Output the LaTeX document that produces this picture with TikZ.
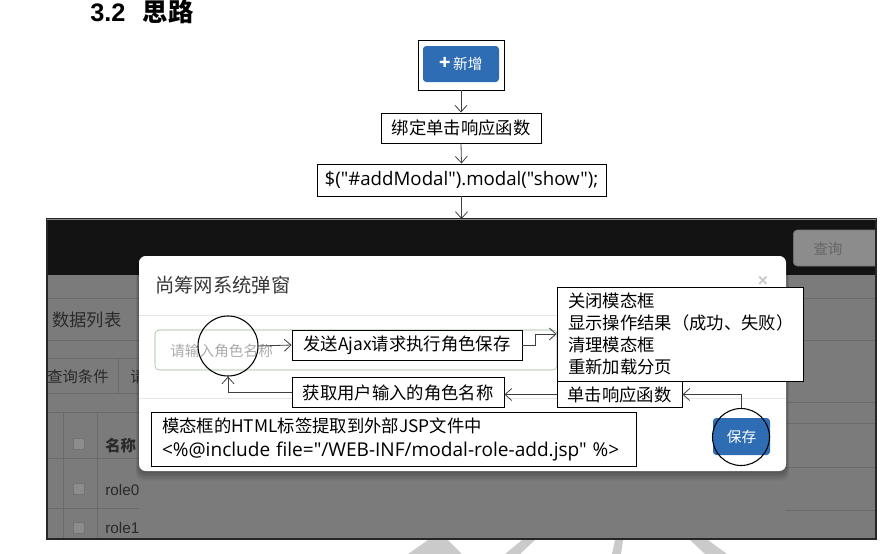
\documentclass[tikz,border=0pt]{standalone}
\usepackage{fontspec}
\setmainfont{Noto Sans CJK SC}
\newfontfamily\arialfont{Liberation Sans}
\newfontfamily\codefont{Open Sans}
\usetikzlibrary{arrows.meta,calc,positioning}
\definecolor{btnblue}{HTML}{2E6DB4}
\definecolor{backdrop}{HTML}{7B7B7B}
\definecolor{navdark}{HTML}{131313}
\definecolor{rowline}{HTML}{6A6A6A}
\definecolor{dimtext}{HTML}{2A2A2A}
\definecolor{inputgreen}{HTML}{8FB68F}
\definecolor{sepline}{HTML}{E6E6E6}
\definecolor{wmark}{HTML}{CACACA}

\begin{document}
\begin{tikzpicture}[x=0.75pt,y=-0.75pt,>={Straight Barb[length=5pt,width=9pt]},
  box/.style={draw,fill=white,line width=0.7pt,inner sep=0pt,font=\fontsize{13}{16}\selectfont},
  lens/.style={draw,circle,line width=0.8pt,inner sep=0pt},
  flow/.style={->,line width=0.6pt,draw=black!75},
  shot/.style={font=\fontsize{11.5}{14}\selectfont,text=dimtext,inner sep=0pt},
  tick/.style={draw=rowline,fill=black!45,rounded corners=1pt,minimum size=8.5pt,inner sep=0pt}]
  \useasboundingbox (0,0) rectangle (883,554);

  % title
  \node[anchor=base west,inner sep=0pt,font=\fontsize{19}{21}\selectfont] (title) at (90,21.5)
    {{\arialfont\bfseries 3.2}\hspace{13pt}{\bfseries 思路}};

  % flow above the screenshot
  \node[draw,fill=white,line width=0.7pt,minimum width=64.5pt,minimum height=37.5pt] (btnframe) at (461,65) {};
  \node[fill=btnblue,rounded corners=2.5pt,minimum width=57pt,minimum height=27pt,text=white,
    font=\fontsize{11}{13}\selectfont] (btn) at (461,64) {{\fontsize{14}{14}\selectfont\bfseries +}\,新增};
  \node[box,minimum width=120pt,minimum height=22.5pt] (bind) at (461,128) {绑定单击响应函数};
  \node[box,minimum width=216.75pt,minimum height=24pt,font=\codefont\fontsize{14}{16}\selectfont] (show)
    at (461.5,180) {\$("\#addModal").modal("show");};
  \coordinate (shottop) at (461,219);
  \draw[flow] (btnframe.south) -- (bind.north);
  \draw[flow] (bind.south) -- (show.north);
  \draw[flow] (show.south) -- (show.south |- shottop);

  % screenshot of the page behind the modal
  \fill[backdrop] (47,219) rectangle (876,539);
  \fill[navdark] (47,220) rectangle (876,275);
  \begin{scope}
    \clip (47,219) rectangle (876,539);
    \node[fill=black!45,draw=black!55,rounded corners=3pt,minimum width=66pt,minimum height=27pt,
      text=black!60,font=\fontsize{11}{13}\selectfont,text depth=0pt,inner sep=0pt,anchor=west] (query) at (793,248)
      {\hspace*{-14pt}查询};
  \end{scope}
  \foreach \y in {298,340,358,393,412,458,508}
    \draw[rowline] (47,\y) -- (139,\y);
  \foreach \y in {298,340,402,423,467,510}
    \draw[rowline] (786,\y) -- (876,\y);
  \draw[rowline] (118,358) -- (118,393);
  \draw[rowline] (63,412) -- (63,539);
  \draw[rowline] (97,412) -- (97,539);
  \node[shot,font=\fontsize{13}{16}\selectfont,anchor=west] (listlabel) at (52,320) {数据列表};
  \node[shot,anchor=west] (condtab) at (47,377) {查询条件};
  \node[shot,anchor=west] (condtab2) at (130,377) {请};
  \node[tick] (tick0) at (79,444) {};
  \node[tick] (tick1) at (79,489) {};
  \node[tick] (tick2) at (79,528) {};
  \node[shot,anchor=west,font=\fontsize{11.5}{14}\selectfont\bfseries] (namehead) at (105,446) {名称};
  \node[shot,anchor=west,font=\arialfont\fontsize{11.5}{14}\selectfont] (role0) at (105,490) {role0};
  \node[shot,anchor=west,font=\arialfont\fontsize{11.5}{14}\selectfont] (role1) at (105,528) {role1};
  \draw[black!85,line width=0.8pt] (47,219) rectangle (876,539);
  \draw[black!45,line width=1pt] (47,219.5) -- (876,219.5);

  % modal window
  \foreach \s in {1,...,6}
    \fill[black,opacity=0.05,rounded corners=6pt] (139-\s/2,256+\s) rectangle (786+\s/2,471+1.6*\s);
  \fill[white,rounded corners=5pt] (139,256) rectangle (786,471);
  \node[anchor=west,inner sep=0pt,text=black!78,font=\fontsize{14.5}{16}\selectfont] (mtitle) at (155,285) {尚筹网系统弹窗};
  \node[inner sep=0pt,text=black!22,font=\arialfont\fontsize{13}{13}\selectfont\bfseries] (mclose) at (763,281) {×};
  \draw[sepline] (139,315) -- (786,315);
  \draw[sepline] (139,398) -- (786,398);
  \node[draw=inputgreen,rounded corners=3pt,minimum width=301.5pt,minimum height=30pt] (input) at (356,350) {};
  \node[anchor=west,inner sep=0pt,text=black!33,font=\fontsize{11}{13}\selectfont] (hint) at (170,351) {请输入角色名称};
  \node[fill=btnblue,rounded corners=2.5pt,minimum width=42.75pt,minimum height=27.75pt,text=white,
    font=\fontsize{11}{13}\selectfont] (save) at (741.5,436.5) {保存};

  % notes on the modal
  \node[box,minimum width=172.5pt,minimum height=22.5pt] (ajax) at (407,345) {发送Ajax请求执行角色保存};
  \node[box,minimum height=70.5pt,text width=168pt,inner xsep=8.25pt,align=left,
    font=\fontsize{13}{16.5}\selectfont] (result) at (680,334)
    {关闭模态框\\显示操作结果（成功、失败）\\清理模态框\\重新加载分页};
  \node[box,minimum width=93.75pt,minimum height=19.5pt] (click) at (619.5,394.5) {单击响应函数};
  \node[box,minimum width=159pt,minimum height=22.5pt] (fetch) at (398,392.5) {获取用户输入的角色名称};
  \node[box,minimum height=40.5pt,text width=347.25pt,inner xsep=8.25pt,align=left,
    font=\fontsize{13}{18}\selectfont] (jsp) at (393.5,439)
    {模态框的HTML标签提取到外部JSP文件中\\{\codefont\fontsize{14.3}{18}\selectfont <\%@include file="/WEB-INF/modal-role-add.jsp" \%>}};
  \node[lens,minimum size=45pt] (lens1) at (228,346) {};
  \node[lens,minimum size=42.75pt] (lens2) at (741,437) {};

  \draw[flow] (lens1.east) -- (ajax.west);
  \draw[flow] (ajax.east) -- ++(13,0) |- (result.west);
  \draw[flow] (lens2.north) |- (click.east);
  \draw[flow] (click.west) -- (click.west -| fetch.east);
  \draw[flow] (fetch.west) -| (lens1.south);

  % faint watermark under the screenshot
  \fill[wmark] (408,554) -- (428,540) -- (448,540) -- (462,554) -- cycle;
  \fill[wmark] (505,554) -- (522,540) -- (535,540) -- (520,554) -- cycle;
  \fill[wmark] (612,554) -- (615,540) -- (623,540) -- (621,554) -- cycle;
  \fill[wmark] (690,540) -- (708,540) -- (727,554) -- (705,554) -- cycle;
\end{tikzpicture}
\end{document}
